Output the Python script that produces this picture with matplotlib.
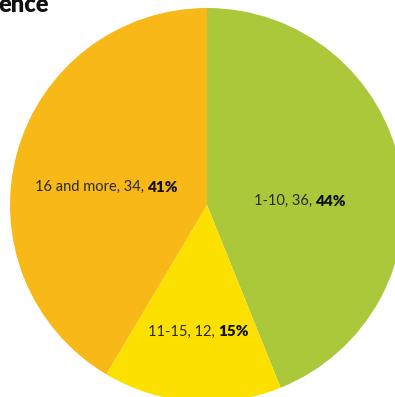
import matplotlib.pyplot as plt

labels = ["1-10", "11-15", "16 and more"]
counts = [36, 12, 34]
percents = ["44%", "15%", "41%"]
colors = ["#abc83a", "#fce100", "#f7b818"]

W, H = 395, 397
fig = plt.figure(figsize=(W / 100, H / 100), dpi=100)
# pie centre ~(207, 205) px, radius ~197 px
cx, cy, r = 207, 205, 197
ax = fig.add_axes([(cx - r) / W, (H - cy - r) / H, 2 * r / W, 2 * r / H])
ax.pie(counts, colors=colors, startangle=90, counterclock=False,
       radius=1, wedgeprops=dict(linewidth=0))
ax.set_xlim(-1, 1)
ax.set_ylim(-1, 1)
ax.set_aspect("equal")
ax.axis("off")

# label split points (where bold part begins), in pixel coords from top-left
label_pos = [(316, 201), (218, 332), (148, 187)]
for lab, n, p, (x, y) in zip(labels, counts, percents, label_pos):
    fx, fy = x / W, 1 - y / H
    fig.text(fx, fy, f"{lab}, {n}, ", ha="right", va="center",
             fontsize=10.5, family="Lato", color="#2a2a2a")
    fig.text(fx, fy, p, ha="left", va="center", fontsize=11,
             family="Lato", fontweight="heavy", color="#111111")

fig.text(-0.005, 1 - 12 / H, "ence", ha="left", va="baseline",
         fontsize=17, family="Lato", fontweight="heavy", color="#111111")

fig.savefig("out.png", dpi=100)
